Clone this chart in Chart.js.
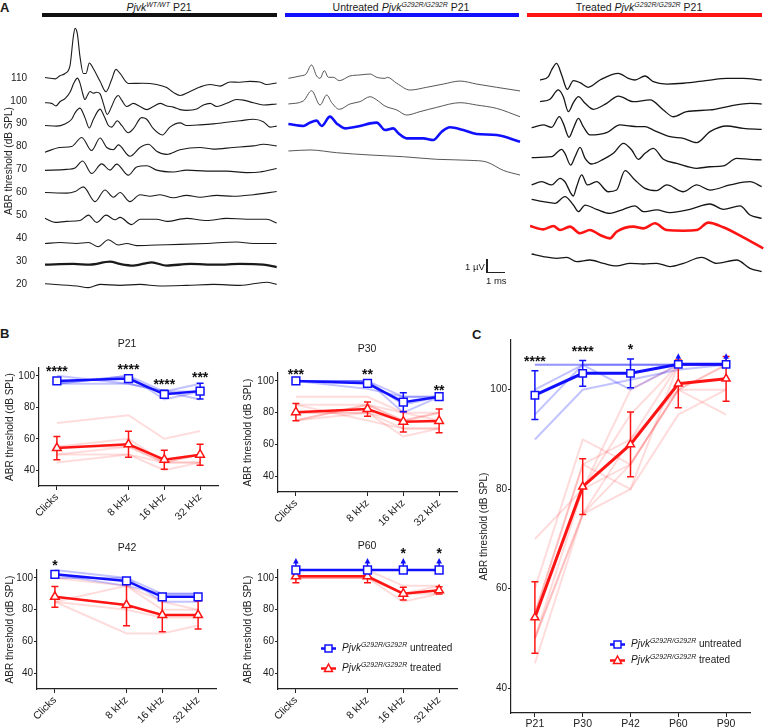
<!DOCTYPE html>
<html>
<head>
<meta charset="utf-8">
<title>ABR thresholds</title>
<script src="https://cdn.jsdelivr.net/npm/chart.js@4.4.1/dist/chart.umd.min.js"></script>
<style>
  html, body { margin: 0; padding: 0; background: #fff; }
  body { position: relative; width: 764px; height: 728px; overflow: hidden;
         font-family: "Liberation Sans", Arial, sans-serif; color: #1a1a1a; }
  canvas { position: absolute; }
  .t { position: absolute; white-space: nowrap; line-height: 1; }
  .panel { font-weight: bold; font-size: 13px; }
  .head { font-size: 10.5px; transform: translateX(-50%); }
  .sup { font-size: 7px; font-style: italic; position: relative; top: -4px; }
  .bar { position: absolute; height: 4px; top: 13px; }
  .sub { font-size: 10.5px; transform: translate(-50%, -50%); }
  .leg { font-size: 10px; }
  .ink { position: absolute; background: #222; }
  svg { position: absolute; }
</style>
</head>
<body>

<div class="t panel" style="left:0;top:1px">A</div>
<div class="t panel" style="left:0;top:327px">B</div>
<div class="t panel" style="left:472px;top:328px">C</div>

<div class="t head" style="left:159px;top:2px"><i>Pjvk</i><span class="sup">WT/WT</span> P21</div>
<div class="t head" style="left:401px;top:2px">Untreated <i>Pjvk</i><span class="sup">G292R/G292R</span> P21</div>
<div class="t head" style="left:639px;top:2px">Treated <i>Pjvk</i><span class="sup">G292R/G292R</span> P21</div>
<div class="bar" style="left:42px;width:235px;background:#111"></div>
<div class="bar" style="left:285px;width:234px;background:#1010ff"></div>
<div class="bar" style="left:527px;width:235px;background:#ff1414"></div>

<canvas id="abrWT"></canvas>
<canvas id="abrUntr"></canvas>
<canvas id="abrTr"></canvas>

<div class="ink" style="left:486px;top:259px;width:1.5px;height:14px"></div>
<div class="ink" style="left:486px;top:271.5px;width:19px;height:1.5px"></div>
<div class="t" style="left:465px;top:262px;font-size:9.5px">1 µV</div>
<div class="t" style="left:486px;top:276px;font-size:9.5px">1 ms</div>

<canvas id="p21"></canvas>
<canvas id="p30"></canvas>
<canvas id="p42"></canvas>
<canvas id="p60"></canvas>
<canvas id="overTime"></canvas>

<div class="t sub" style="left:127px;top:343px">P21</div>
<div class="t sub" style="left:367px;top:348px">P30</div>
<div class="t sub" style="left:127px;top:547px">P42</div>
<div class="t sub" style="left:367px;top:545px">P60</div>

<!-- legends -->
<svg style="left:321px;top:642px" width="15" height="13"><line x1="0" y1="6.5" x2="15" y2="6.5" stroke="#1010ff" stroke-width="2.5"/><rect x="4" y="3" width="7" height="7" fill="#fff" stroke="#1010ff" stroke-width="1.5"/></svg>
<div class="t leg" style="left:342px;top:643px"><i>Pjvk</i><span class="sup">G292R/G292R</span> untreated</div>
<svg style="left:321px;top:662px" width="15" height="13"><line x1="0" y1="6.5" x2="15" y2="6.5" stroke="#ff1414" stroke-width="2.5"/><polygon points="7.5,2 11.5,9.5 3.5,9.5" fill="#fff" stroke="#ff1414" stroke-width="1.5"/></svg>
<div class="t leg" style="left:342px;top:663px"><i>Pjvk</i><span class="sup">G292R/G292R</span> treated</div>

<svg style="left:610px;top:637.5px" width="15" height="13"><line x1="0" y1="6.5" x2="15" y2="6.5" stroke="#1010ff" stroke-width="2.5"/><rect x="4" y="3" width="7" height="7" fill="#fff" stroke="#1010ff" stroke-width="1.5"/></svg>
<div class="t leg" style="left:631px;top:639px"><i>Pjvk</i><span class="sup">G292R/G292R</span> untreated</div>
<svg style="left:610px;top:653.5px" width="15" height="13"><line x1="0" y1="6.5" x2="15" y2="6.5" stroke="#ff1414" stroke-width="2.5"/><polygon points="7.5,2 11.5,9.5 3.5,9.5" fill="#fff" stroke="#ff1414" stroke-width="1.5"/></svg>
<div class="t leg" style="left:631px;top:655px"><i>Pjvk</i><span class="sup">G292R/G292R</span> treated</div>

<script>
// ---------- A: ABR waveforms, [time ms, amplitude µV] ----------
const levels = [110, 100, 90, 80, 70, 60, 50, 40, 30, 20];

const wt110 = [[0,0.03],[0.56,-0.08],[0.83,0.18],[1.11,0.36],[1.39,1.0],[1.57,3.31],[1.67,4.03],[1.8,3.56],[1.94,1.77],[2.13,0.36],[2.28,0.36],[2.46,1.21],[2.69,0.74],[3.06,-0.28],[3.39,-1.13],[3.7,-0.15],[3.94,0.69],[4.17,0.36],[4.63,-0.46],[5.46,-0.44],[6.2,-0.54],[6.76,-0.79],[7.13,-1.18],[7.5,-1.44],[8.06,-1.1],[8.61,-0.74],[9.17,-0.54],[9.72,-0.67],[10.28,-0.33],[10.83,-0.36],[11.39,-0.28],[11.94,-0.33],[12.31,-0.54],[12.87,-0.41]];
const wt100 = [[0,-0.16],[0.37,-0.21],[0.61,-0.42],[0.83,-0.08],[1.11,0.17],[1.39,0.69],[1.61,1.46],[1.8,1.84],[1.94,1.46],[2.09,0.61],[2.22,0.1],[2.35,0.43],[2.5,0.76],[2.69,0.61],[2.87,0.69],[3.06,0.56],[3.24,-0.21],[3.46,-1.11],[3.7,-0.47],[3.89,0.17],[4.07,0.43],[4.26,0.05],[4.54,-0.47],[4.91,-0.21],[5.28,-0.47],[5.65,-0.72],[6.02,-0.47],[6.39,-0.21],[6.76,-0.42],[7.13,-0.52],[7.5,-0.72],[7.87,-0.78],[8.43,-0.67],[8.8,-0.34],[9.17,-0.21],[9.54,-0.47],[10.09,-0.21],[10.65,0.1],[11.02,0.05],[11.57,-0.16],[12.13,-0.34],[12.87,-0.26]];
const wt90 = [[0,-0.15],[0.65,-0.2],[1.11,-0.02],[1.48,0.36],[1.67,0.88],[1.94,1.26],[2.22,0.49],[2.46,-0.36],[2.69,0.36],[3.06,1.18],[3.28,0.62],[3.52,-0.15],[3.7,-0.28],[4.02,0.23],[4.26,-0.15],[4.63,-0.74],[4.91,-0.41],[5.37,0.49],[5.65,0.36],[6.02,-0.41],[6.52,-0.92],[6.94,-0.28],[7.5,0.06],[7.87,-0.15],[8.61,-0.1],[9.35,-0.02],[10.09,0.11],[10.83,0.23],[11.57,0.36],[12.13,0.16],[12.5,-0.28],[12.87,-0.2]];
const wt80 = [[0,-0.46],[0.83,-0.08],[1.48,0],[2.04,0.74],[2.59,-0.33],[3.06,0.69],[3.43,-0.08],[3.8,-0.26],[4.07,0.13],[4.72,-0.79],[5.28,-0.08],[5.74,0.18],[6.2,-0.38],[6.76,-0.64],[7.5,-0.26],[8.61,-0.08],[9.35,-0.21],[10.46,-0.08],[11.57,0.05],[12.13,0.18],[12.87,0.05]];
const wt70 = [[0,-0.08],[1.2,0],[1.67,0.12],[2.09,0.68],[2.59,-0.34],[3.15,0.45],[3.61,-0.06],[3.98,0.43],[4.63,-0.47],[5.09,0.2],[5.65,0.3],[6.2,-0.06],[7.13,-0.21],[7.87,-0.06],[8.98,-0.14],[10.09,-0.14],[11.2,-0.26],[11.94,-0.21],[12.87,0.07]];
const wt60 = [[0,-0.02],[1.2,-0.07],[1.67,0.06],[2.13,0.44],[2.78,-0.76],[3.33,0.19],[3.8,-0.4],[4.17,-0.02],[4.72,-0.76],[5.28,-0.2],[5.83,-0.33],[6.39,-0.2],[7.13,-0.45],[7.87,-0.25],[8.61,-0.4],[9.54,-0.25],[10.46,-0.33],[11.57,-0.2],[12.87,0.06]];
const wt50 = [[0,-0.26],[0.56,-0.59],[1.2,-0.51],[1.94,-0.44],[2.41,0],[2.87,-0.59],[3.39,0],[3.89,-0.38],[4.17,-0.18],[4.81,-0.77],[5.28,-0.33],[6.2,-0.33],[6.76,-0.51],[7.87,-0.26],[8.98,-0.44],[10.09,-0.26],[11.2,-0.33],[12.31,-0.33],[12.87,-0.64]];
const wt40 = [[0,-0.44],[0.83,-0.37],[1.76,-0.44],[2.41,-0.37],[2.96,-0.71],[3.52,-0.14],[4.07,-0.57],[4.54,-0.44],[5.09,-0.62],[6.2,-0.57],[7.5,-0.52],[8.98,-0.44],[10.65,-0.32],[11.57,-0.44],[12.87,-0.44]];
const wt30 = [[0,-0.3],[1.57,-0.25],[2.5,-0.3],[3.61,-0.06],[4.17,-0.25],[4.91,-0.38],[5.93,-0.12],[6.76,-0.38],[8.06,-0.25],[9.54,-0.3],[10.83,-0.25],[12.13,-0.3],[12.87,-0.5]];
const wt20 = [[0,0],[1.76,-0.18],[2.41,-0.31],[3.06,-0.05],[4.17,-0.13],[5.28,-0.05],[6.39,-0.18],[7.87,-0.13],[9.35,-0.05],[10.83,-0.13],[12.31,0.13],[12.87,-0.05]];

const untr110 = [[0.02,-0.41],[0.67,-0.23],[1,-0.08],[1.31,0.62],[1.59,-0.23],[1.78,-0.41],[2.02,0.18],[2.24,-0.33],[2.52,-0.33],[2.85,-0.59],[3.44,-0.23],[4,-0.15],[4.56,-0.08],[4.93,-0.33],[5.39,-0.41],[5.52,-0.33],[6.04,-0.79],[6.78,-1.31],[7.7,-1.1],[8.63,-0.85],[9.56,-0.62],[10.48,-0.85],[11.59,-1.1],[12.89,-1.38]];
const untr100 = [[0.02,-0.52],[0.85,-0.29],[1.31,0.5],[1.78,-0.6],[2.15,0.17],[2.43,-0.42],[2.85,-0.93],[3.44,-0.52],[4,-0.34],[4.56,0.04],[4.93,-0.21],[5.39,-0.68],[6.04,-0.98],[6.59,-1.37],[7.33,-1.11],[8.26,-0.78],[9.56,-0.42],[10.48,-0.6],[11.59,-0.86],[12.89,-1.5]];
const untr90 = [[0.02,-0.2],[0.85,-0.35],[1.22,-0.09],[1.59,0.06],[1.87,-0.35],[2.33,0.37],[2.7,-0.15],[3.17,-0.53],[4,-0.35],[4.56,-0.15],[4.93,-0.09],[5.39,-0.66],[5.85,-0.53],[6.13,-0.91],[6.59,-1.3],[7.52,-1.3],[8.07,-1.43],[8.54,-0.79],[9,-0.45],[9.74,-0.66],[10.48,-0.96],[11.59,-1.04],[12.89,-1.56]];
const untr80 = [[0.02,-0.41],[1.22,-0.33],[2.7,-0.54],[4.56,-0.72],[6.41,-0.85],[8.26,-1.05],[10.11,-1.13],[11.04,-1.26],[11.96,-1.9],[12.89,-2.26]];

const tr110 = [[0.56,-0.54],[1.02,-0.28],[1.2,0.23],[1.48,0.74],[1.76,-0.15],[2.07,-1.26],[2.41,-0.59],[2.78,-0.74],[3.24,-1.1],[3.89,-0.54],[4.91,-0.03],[5.46,-0.41],[5.83,-0.54],[6.39,-0.23],[6.85,-0.67],[7.59,-0.85],[8.52,-0.79],[10,-0.54],[10.93,-0.41],[11.85,-0.41],[12.87,-0.54]];
const tr100 = [[0.56,-0.34],[1.11,-0.16],[1.57,0.56],[1.85,0.04],[2.13,-1.11],[2.41,-0.42],[2.69,0.04],[3.06,-0.47],[3.52,-0.93],[4.26,-0.47],[4.91,0.09],[5.74,-0.34],[6.67,-0.21],[7.41,-0.98],[7.96,-1.5],[8.7,-1.11],[10,-0.98],[11.11,-0.68],[12.22,-0.47],[12.87,-0.52]];
const tr90 = [[0.09,-0.48],[0.74,-0.27],[1.2,-0.45],[1.63,0.37],[1.85,-0.15],[2.17,-1.22],[2.41,-0.53],[2.69,0.24],[2.96,-0.4],[3.33,-1.04],[4.26,-0.86],[5,-0.27],[5.56,-0.35],[5.93,-0.4],[6.39,-0.4],[6.85,-0.66],[7.78,-1.17],[8.52,-1.3],[9.26,-1.63],[10,-0.78],[10.93,-0.35],[11.85,-0.53],[12.87,-0.61]];
const tr80 = [[0.09,-0.92],[1.2,-0.85],[1.76,-0.28],[1.94,-0.59],[2.26,-1.49],[2.5,-0.85],[2.78,-0.13],[3.06,-0.97],[3.43,-1.41],[4.07,-1.05],[4.63,-0.59],[5.19,0.18],[5.65,-0.33],[6.02,-1.05],[6.39,-0.59],[6.85,-0.21],[7.41,-1.05],[8.15,-1.36],[9.26,-1.74],[10,-1.62],[10.74,-1.56],[11.48,-0.97],[12.22,-1.05],[12.87,-1.1]];
const tr70 = [[0.09,-1.16],[0.65,-0.91],[1.2,-1.16],[1.67,-0.65],[1.94,-0.91],[2.41,-2.01],[2.59,-1.29],[2.87,-0.39],[3.19,-1.16],[3.7,-0.91],[4.35,-1.68],[4.81,-1.55],[5.28,-0.06],[5.83,-0.78],[6.39,-1.42],[7.04,-1.6],[7.59,-1.16],[8.52,-1.68],[9.26,-1.16],[10,-1.55],[11.11,-1.16],[12.22,-0.91],[12.87,-1.29]];
const tr60 = [[0.09,-0.4],[0.74,-0.58],[1.39,-0.71],[1.94,-0.2],[2.41,-0.84],[2.69,-1.35],[3.06,-0.84],[3.7,-1.17],[4.44,-1.48],[5.19,-1.17],[5.83,-0.91],[6.3,-1.35],[7.04,-1.22],[7.78,-1.42],[8.89,-1.17],[10,-0.76],[10.74,-1.17],[11.67,-0.91],[12.22,-1.61],[12.87,-1.86]];
const tr50 = [[0,-0.59],[0.74,-0.85],[1.3,-0.59],[1.67,-0.9],[2.22,-0.64],[2.78,-1.15],[3.33,-0.9],[3.89,-1.28],[4.44,-1.54],[4.81,-1.03],[5.74,-0.64],[6.3,-0.77],[6.94,-0.38],[7.59,-0.9],[8.52,-0.95],[9.26,-0.9],[9.91,-0.33],[10.74,-0.69],[11.85,-1.46],[12.96,-2.31]];
const tr40 = [[0.09,-0.88],[0.74,-1.08],[1.48,-1.21],[2.04,-1.14],[2.59,-1.47],[3.33,-1.34],[4.07,-1.6],[4.81,-1.8],[5.56,-1.6],[6.3,-1.65],[7.04,-1.6],[7.78,-1.85],[8.52,-1.6],[9.54,-1.14],[10.37,-1.6],[11.48,-1.34],[12.22,-1.98],[12.87,-2.24]];

// ---------- B: thresholds per stimulus ----------
const freqLabels = ['Clicks', '8 kHz', '16 kHz', '32 kHz'];
const freqX = [0, 2, 3, 4];

const p21UntrMice = [[95,100,90,95],[100,95,90,85],[95,100,85,90],[95,95,90,90]];
const p21TrMice = [[70,75,60,65],[50,50,45,45],[55,60,45,50],[45,50,40,45],[55,55,45,50],[50,55,45,45]];
const p21UntrMean = [96.8, 98.3, 88.3, 90.3];
const p21UntrSem = [2, 2, 2.5, 5];
const p21TrMean = [54.1, 56.5, 46.7, 49.9];
const p21TrSem = [7.4, 8.3, 6, 6.7];
const p21Stars = ['****', '****', '****', '***'];

const p30UntrMice = [[100,100,90,90],[100,100,80,90],[100,95,90,90],[100,100,85,90]];
const p30TrMice = [[90,90,80,80],[85,85,75,80],[80,80,70,70],[75,80,75,75],[85,75,70,70],[75,85,80,75],[80,80,65,70],[75,85,75,80]];
const p30UntrMean = [100, 98.5, 86.6, 90.1];
const p30UntrSem = [0, 1.5, 6, 0];
const p30TrMean = [80.3, 82.3, 74.3, 74.8];
const p30TrSem = [5.4, 4.5, 6.5, 7.5];
const p30Stars = ['***', '**', '', '**'];

const p42UntrMice = [[105,100,90,90],[100,100,85,85],[102,95,90,90]];
const p42TrMice = [[100,95,80,80],[85,65,65,70],[85,95,85,80],[85,80,75,75]];
const p42UntrMean = [102.3, 98.1, 88.1, 88.1];
const p42UntrSem = [1.5, 1.5, 1.5, 1.5];
const p42TrMean = [88.1, 82.9, 76.6, 76.6];
const p42TrSem = [6.5, 13, 10.5, 8.8];
const p42Stars = ['*', '', '', ''];

const p60UntrMice = [[105,105,105,105],[105,105,105,105]];
const p60TrMice = [[105,105,95,95],[100,100,90,90],[100,100,85,90],[100,100,90,95]];
const p60UntrMean = [105, 105, 105, 105];
const p60UntrSem = [0, 0, 0, 0];
const p60UntrAbove = [1, 1, 1, 1];
const p60TrMean = [101, 101, 90.1, 92.2];
const p60TrSem = [4, 4, 4, 2.3];
const p60Stars = ['', '', '*', '*'];

// ---------- C: click thresholds over time ----------
const ageLabels = ['P21', 'P30', 'P42', 'P60', 'P90'];
const ageX = [0, 1, 2, 3, 4];
const cUntrMice = [[105,105,105,105,105],[100,105,100,105,105],[95,105,105,105,105],[90,100,102,104,105],[105,105,105,105,105]];
const cTrMice = [[45,75,80,95,100],[50,80,85,100,105],[50,75,90,105,105],[55,85,90,100,100],[55,80,95,105,105],[60,90,85,100,95],[70,80,100,105,105],[50,75,85,100,105],[55,85,80,105,105]];
const cUntrMean = [98.9, 103.3, 103.3, 105.1, 105.1];
const cUntrSem = [4.9, 2.6, 2.9, 0, 0];
const cUntrAbove = [0, 0, 0, 1, 1];
const cTrMean = [54.2, 80.5, 89, 101.2, 102.2];
const cTrSem = [7.2, 5.6, 6.5, 4.8, 4.5];
const cStars = ['****', '****', '*', '', ''];

// ---------- drawing ----------
const FONT = '"Liberation Sans", Arial, sans-serif';
Chart.defaults.font.family = FONT;
Chart.defaults.color = '#222';
Chart.defaults.animation = false;

const INK = '#222';
const BLUE = '#1010ff';
const RED = '#ff1414';
const BLUE_LIGHT = 'rgba(40,40,255,0.28)';
const RED_LIGHT = 'rgba(255,50,50,0.17)';
const K = 13 / 2.422;   // 1 µV = 13 px, 10 dB step = 24.2 px

function trace(pts, level, color, width) {
  return {
    data: pts.map(p => ({x: p[0], y: level + p[1] * K})),
    borderColor: color, borderWidth: width, pointRadius: 0,
    cubicInterpolationMode: 'monotone', clip: false
  };
}

function abrChart(id, left, width, sets, withAxis) {
  const cv = document.getElementById(id);
  const yw = withAxis ? 45 : 0;
  cv.width = width; cv.height = 304;
  cv.style.left = left + 'px'; cv.style.top = '9px';
  new Chart(cv, {
    type: 'line',
    data: {datasets: sets},
    options: {
      responsive: false, events: [],
      layout: {padding: {top: 8, bottom: 8, left: 0, right: 0}},
      plugins: {legend: {display: false}, tooltip: {enabled: false}},
      scales: {
        x: {type: 'linear', display: false, min: 0, max: (width - yw) / 18},
        y: {
          type: 'linear', display: withAxis, min: 14.22, max: 133.12,
          afterFit: s => { s.width = yw; },
          afterBuildTicks: s => { s.ticks = levels.map(v => ({value: v})); },
          grid: {display: false}, border: {display: false},
          ticks: {font: {size: 10}, color: INK, padding: 10},
          title: {display: true, text: 'ABR threshold (dB SPL)', font: {size: 10}, color: INK, padding: {top: 3.5, bottom: 0}}
        }
      }
    }
  });
}

const wtList = [wt110, wt100, wt90, wt80, wt70, wt60, wt50, wt40, wt30, wt20];
abrChart('abrWT', 0, 280, wtList.map((d, i) =>
  trace(d, levels[i], '#1a1a1a', levels[i] === 30 ? 2.3 : 1.1)), true);

const untrList = [untr110, untr100, untr90, untr80];
abrChart('abrUntr', 288, 236, untrList.map((d, i) =>
  levels[i] === 90 ? trace(d, levels[i], BLUE, 2.6) : trace(d, levels[i], '#444', 0.9)), false);

const trList = [tr110, tr100, tr90, tr80, tr70, tr60, tr50, tr40];
abrChart('abrTr', 530, 234, trList.map((d, i) =>
  levels[i] === 50 ? trace(d, levels[i], RED, 2.6) : trace(d, levels[i], '#161616', 1.3)), false);

// error bars, "above limit" arrows and significance stars
const errorMarks = {
  id: 'errorMarks',
  beforeDatasetDraw(chart, args) {
    const ds = chart.data.datasets[args.index];
    if (!ds.sem) return;
    const ctx = chart.ctx, ys = chart.scales.y;
    ctx.save();
    ctx.strokeStyle = ds.borderColor; ctx.fillStyle = ds.borderColor; ctx.lineWidth = 1.5;
    args.meta.data.forEach((pt, i) => {
      const m = ds.data[i].y, e = ds.sem[i];
      if (e > 0) {
        const top = ys.getPixelForValue(m + e), bot = ys.getPixelForValue(m - e);
        ctx.beginPath();
        ctx.moveTo(pt.x, top); ctx.lineTo(pt.x, bot);
        ctx.moveTo(pt.x - 3.5, top); ctx.lineTo(pt.x + 3.5, top);
        ctx.moveTo(pt.x - 3.5, bot); ctx.lineTo(pt.x + 3.5, bot);
        ctx.stroke();
      }
      if (ds.above && ds.above[i]) {
        const tip = pt.y - ds.arrowLen;
        ctx.beginPath(); ctx.moveTo(pt.x, pt.y); ctx.lineTo(pt.x, tip + 4); ctx.stroke();
        ctx.beginPath(); ctx.moveTo(pt.x, tip); ctx.lineTo(pt.x - 2.8, tip + 5.5);
        ctx.lineTo(pt.x + 2.8, tip + 5.5); ctx.closePath(); ctx.fill();
      }
    });
    ctx.restore();
  },
  afterDraw(chart, args, opts) {
    if (!opts.stars) return;
    const ds = chart.data.datasets[opts.ref], meta = chart.getDatasetMeta(opts.ref);
    const ctx = chart.ctx, ys = chart.scales.y;
    ctx.save();
    ctx.fillStyle = '#111'; ctx.textAlign = 'center'; ctx.textBaseline = 'alphabetic';
    ctx.font = 'bold ' + opts.size + 'px ' + FONT;
    opts.stars.forEach((s, i) => {
      if (!s) return;
      const pt = meta.data[i];
      let top = ys.getPixelForValue(ds.data[i].y + (ds.sem[i] || 0));
      if (ds.above && ds.above[i]) top = Math.min(top, pt.y - ds.arrowLen + 2);
      const cy = top - opts.gap;
      ctx.fillText(s, pt.x, cy + 0.6 * opts.size);
    });
    ctx.restore();
  }
};

function groupChart(id, area, o) {
  const cv = document.getElementById(id);
  const left = area[0] - o.yw, top = area[1] - o.pt;
  const w = area[2] - left + 8, h = area[3] - top + o.xh;
  cv.width = w; cv.height = h;
  cv.style.left = left + 'px'; cv.style.top = top + 'px';
  const pts = arr => arr.map((v, i) => ({x: o.xs[i], y: v}));
  const sets = [];
  o.untrMice.forEach(m => sets.push({data: pts(m), borderColor: BLUE_LIGHT, borderWidth: 2, pointRadius: 0, order: 5, clip: false}));
  o.trMice.forEach(m => sets.push({data: pts(m), borderColor: RED_LIGHT, borderWidth: 2, pointRadius: 0, order: 4, clip: false}));
  sets.push({
    data: pts(o.trMean), sem: o.trSem, borderColor: RED, borderWidth: o.lw,
    pointStyle: 'triangle', pointRadius: o.tri, pointBorderWidth: 1.5,
    pointBorderColor: RED, pointBackgroundColor: '#fff', order: 1, clip: false
  });
  sets.push({
    data: pts(o.untrMean), sem: o.untrSem, above: o.above, arrowLen: o.arrowLen,
    borderColor: BLUE, borderWidth: o.lw,
    pointStyle: 'rect', pointRadius: o.sq, pointBorderWidth: 1.5,
    pointBorderColor: BLUE, pointBackgroundColor: '#fff', order: 0, clip: false
  });
  new Chart(cv, {
    type: 'line',
    data: {datasets: sets},
    plugins: [errorMarks],
    options: {
      responsive: false, events: [],
      layout: {padding: {top: o.pt, right: 8, left: 0, bottom: 0}},
      plugins: {
        legend: {display: false}, tooltip: {enabled: false},
        errorMarks: {stars: o.stars, ref: sets.length - 1, size: o.starSize, gap: o.gap}
      },
      scales: {
        x: {
          type: 'linear', min: -0.5, max: 4.5,
          afterFit: s => { s.height = o.xh; },
          afterBuildTicks: s => { s.ticks = o.xs.map(v => ({value: v})); },
          grid: {display: true, drawOnChartArea: false, drawTicks: true, tickLength: 4, color: INK},
          border: {display: true, color: INK, width: 1.2},
          ticks: {font: {size: 10.5}, color: INK, padding: o.xpad, minRotation: o.rot, maxRotation: o.rot,
                  autoSkip: false, callback: (v, i) => o.labels[i]}
        },
        y: {
          type: 'linear', min: o.ymin, max: o.ymax,
          afterFit: s => { s.width = o.yw; },
          afterBuildTicks: s => { s.ticks = [40, 60, 80, 100].map(v => ({value: v})); },
          grid: {display: true, drawOnChartArea: false, drawTicks: true, tickLength: 3, color: INK},
          border: {display: true, color: INK, width: 1.2},
          ticks: {font: {size: 10}, color: INK, padding: 1},
          title: {display: true, text: 'ABR threshold (dB SPL)', font: {size: 10}, color: INK,
                  padding: {top: o.tpad, bottom: 0}}
        }
      }
    }
  });
}

const bBase = {xs: freqX, labels: freqLabels, yw: 39, xh: 50, xpad: 1, rot: 45, ymin: 30, ymax: 105, pt: 26,
               lw: 2.5, sq: 5.5, tri: 5, arrowLen: 12, starSize: 14, gap: 10, tpad: 4};

groupChart('p21', [39, 368, 218, 486], Object.assign({}, bBase, {
  untrMice: p21UntrMice, trMice: p21TrMice, untrMean: p21UntrMean, untrSem: p21UntrSem,
  trMean: p21TrMean, trSem: p21TrSem, stars: p21Stars}));
groupChart('p30', [278, 373, 457, 492], Object.assign({}, bBase, {
  tpad: 3,
  untrMice: p30UntrMice, trMice: p30TrMice, untrMean: p30UntrMean, untrSem: p30UntrSem,
  trMean: p30TrMean, trSem: p30TrSem, stars: p30Stars}));
groupChart('p42', [37, 570, 216, 689], Object.assign({}, bBase, {
  yw: 37, tpad: 4,
  untrMice: p42UntrMice, trMice: p42TrMice, untrMean: p42UntrMean, untrSem: p42UntrSem,
  trMean: p42TrMean, trSem: p42TrSem, stars: p42Stars}));
groupChart('p60', [278, 570, 457, 689], Object.assign({}, bBase, {
  tpad: 3,
  untrMice: p60UntrMice, trMice: p60TrMice, untrMean: p60UntrMean, untrSem: p60UntrSem,
  above: p60UntrAbove, trMean: p60TrMean, trSem: p60TrSem, stars: p60Stars}));

groupChart('overTime', [511, 340, 750, 713], {
  xs: ageX, labels: ageLabels, yw: 41, xh: 15, xpad: 1, rot: 0, ymin: 35, ymax: 110, pt: 20,
  lw: 3, sq: 5.2, tri: 4.6, arrowLen: 11, starSize: 14, gap: 13, tpad: 8,
  untrMice: cUntrMice, trMice: cTrMice, untrMean: cUntrMean, untrSem: cUntrSem,
  above: cUntrAbove, trMean: cTrMean, trSem: cTrSem, stars: cStars});
</script>
</body>
</html>
